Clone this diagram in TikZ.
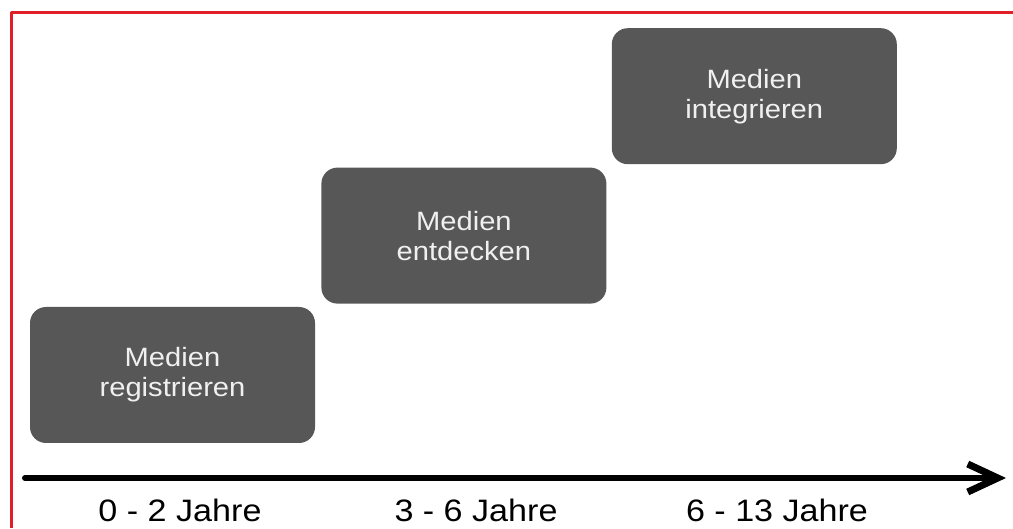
\documentclass[tikz,border=0pt]{standalone}
\usepackage{fontspec}
\setmainfont{Liberation Sans}[FakeStretch=1.1]
\usepackage{tikz}
\usetikzlibrary{arrows.meta}
\usetikzlibrary{positioning}
\definecolor{ddqqww}{rgb}{0.88,0.12,0.16}
\definecolor{sqsqsq}{rgb}{0.34,0.34,0.34}
\definecolor{eeeeee}{rgb}{0.94,0.94,0.94}
\tikzstyle{stepbox}=[fill=sqsqsq,rounded corners=16pt,minimum width=285pt,minimum height=136pt,inner sep=2pt,align=center,text=eeeeee,font=\fontsize{26.5}{30}\selectfont]
\tikzstyle{agelabel}=[anchor=base,inner sep=0pt,font=\fontsize{31}{36}\selectfont]

\begin{document}
\begin{tikzpicture}[line cap=round,line join=round,>={Straight Barb[length=30pt,width=28pt,line width=7pt]},x=1pt,y=1pt]
                    \useasboundingbox (0,0) rectangle (1013,528);
                    \draw [line width=3pt,line cap=butt,color=ddqqww] (11.5,0) -- (11.5,515) -- (1013,515);
                    \node [stepbox] (registrieren) at (172.5,153) {Medien\\registrieren};
                    \node [stepbox,above right=3pt and 6pt of registrieren] (entdecken) {Medien\\entdecken};
                    \node [stepbox,above right=3pt and 5pt of entdecken] (integrieren) {Medien\\integrieren};
                    \coordinate (t0) at (25,50);
                    \coordinate (t1) at (1006,50);
                    \draw [->,line width=6pt,color=black] (t0) -- (t1);
                    \node [agelabel] (a1) at (180,6) {0 - 2 Jahre};
                    \node [agelabel] (a2) at (476,6) {3 - 6 Jahre};
                    \node [agelabel] (a3) at (777,6) {6 - 13 Jahre};
                    \end{tikzpicture}
\end{document}
